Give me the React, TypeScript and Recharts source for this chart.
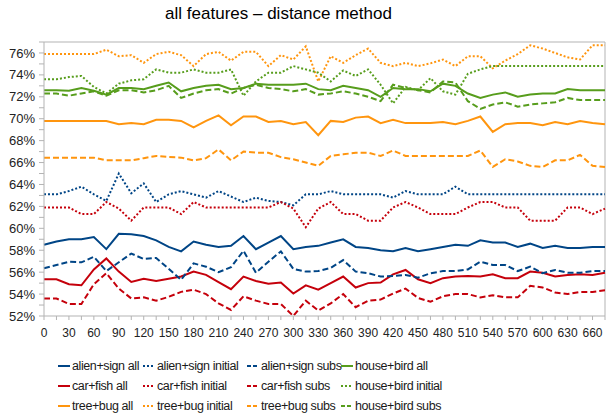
import React from 'react';
import { LineChart, Line, XAxis, YAxis, Legend, ReferenceLine } from 'recharts';

const categories = [0, 15, 30, 45, 60, 75, 90, 105, 120, 135, 150, 165, 180, 195, 210, 225, 240, 255, 270, 285, 300, 315, 330, 345, 360, 375, 390, 405, 420, 435, 450, 465, 480, 495, 510, 525, 540, 555, 570, 585, 600, 615, 630, 645, 660, 675];
const yTicks = [52, 53, 54, 55, 56, 57, 58, 59, 60, 61, 62, 63, 64, 65, 66, 67, 68, 69, 70, 71, 72, 73, 74, 75, 76, 77];

const alienSignAll = [58.5, 58.8, 59.0, 59.0, 59.2, 58.1, 59.5, 59.45, 59.3, 58.9, 58.3, 57.9, 58.8, 58.5, 58.3, 58.4, 59.3, 58.1, 58.7, 59.3, 58.1, 58.3, 58.4, 58.7, 59.0, 58.3, 58.2, 58.0, 57.9, 58.2, 57.9, 58.1, 58.3, 58.5, 58.4, 58.9, 58.7, 58.7, 58.3, 58.6, 58.2, 58.4, 58.2, 58.2, 58.3, 58.3];
const alienSignInitial = [63.1, 63.1, 63.4, 63.8, 63.1, 62.5, 65.0, 63.2, 64.1, 62.4, 63.1, 63.4, 63.1, 62.8, 63.4, 62.9, 62.4, 62.8, 62.5, 62.4, 62.1, 63.1, 63.1, 63.4, 63.1, 63.1, 63.1, 63.1, 62.8, 63.4, 63.1, 63.1, 63.1, 63.8, 63.1, 63.1, 63.1, 63.1, 63.1, 63.1, 63.1, 63.1, 63.1, 63.1, 63.1, 63.1];
const alienSignSubs = [56.35, 56.65, 56.95, 56.9, 57.4, 56.1, 56.9, 57.7, 57.2, 57.3, 56.3, 55.3, 56.8, 56.5, 56.0, 56.45, 57.95, 55.95, 56.95, 57.9, 56.3, 56.05, 56.1, 56.4, 57.1, 56.05, 55.9, 55.6, 55.65, 55.75, 55.5, 55.9, 56.1, 56.1, 56.25, 56.95, 56.65, 56.65, 56.1, 56.5, 55.9, 56.2, 55.95, 55.95, 56.1, 56.1];
const carFishAll = [55.35, 55.35, 54.9, 54.8, 56.25, 57.25, 56.05, 55.1, 55.4, 55.2, 55.4, 55.6, 56.05, 55.75, 55.1, 54.45, 55.6, 55.2, 54.95, 55.05, 54.05, 54.8, 54.4, 55.0, 55.6, 54.6, 55.0, 55.05, 55.8, 56.2, 55.35, 55.0, 55.45, 55.6, 55.65, 55.6, 55.8, 55.45, 55.45, 56.05, 55.95, 55.6, 55.75, 55.8, 55.75, 55.95];
const carFishInitial = [61.9, 61.9, 61.9, 61.3, 61.3, 62.4, 61.8, 60.7, 61.9, 61.9, 61.9, 61.3, 62.4, 61.9, 61.9, 61.9, 61.9, 61.9, 61.9, 62.4, 61.8, 60.1, 61.8, 62.4, 61.3, 61.3, 60.7, 60.7, 61.9, 62.4, 61.9, 61.3, 61.3, 61.3, 61.9, 62.4, 62.4, 61.9, 61.9, 60.7, 60.7, 60.7, 61.9, 61.9, 61.3, 61.8];
const carFishSubs = [53.6, 53.6, 53.1, 53.1, 54.9, 55.9, 54.5, 53.6, 53.7, 53.4, 53.75, 54.2, 54.4, 54.0, 53.15, 52.55, 53.8, 53.4, 53.1, 53.1, 52.0, 53.4, 52.5, 53.15, 54.0, 52.8, 53.4, 53.5, 54.05, 54.5, 53.65, 53.3, 53.8, 54.0, 54.0, 53.7, 53.9, 53.7, 53.7, 54.75, 54.6, 54.15, 54.0, 54.2, 54.2, 54.35];
const treeBugAll = [69.8, 69.8, 69.8, 69.8, 69.8, 69.8, 69.5, 69.6, 69.5, 69.9, 69.9, 69.8, 69.2, 69.8, 70.3, 69.4, 70.2, 70.2, 69.7, 69.8, 69.5, 69.7, 68.5, 69.8, 69.7, 70.1, 70.2, 69.6, 69.9, 69.6, 69.6, 69.6, 69.7, 69.5, 69.8, 70.2, 68.8, 69.5, 69.6, 69.6, 69.4, 69.7, 69.5, 69.8, 69.6, 69.5];
const treeBugInitial = [75.9, 75.9, 75.9, 75.9, 75.9, 76.3, 75.7, 75.8, 75.1, 75.9, 76.1, 75.8, 74.8, 75.9, 76.1, 75.3, 76.1, 76.1, 74.8, 75.8, 75.4, 76.6, 73.4, 75.7, 75.1, 75.8, 76.4, 75.1, 74.8, 75.1, 74.8, 75.05, 75.4, 74.8, 75.7, 75.7, 74.6, 75.3, 75.9, 76.7, 76.4, 76.0, 75.6, 75.4, 76.7, 76.7];
const treeBugSubs = [66.45, 66.45, 66.45, 66.45, 66.45, 66.2, 66.2, 66.2, 66.4, 66.6, 66.5, 66.45, 66.2, 66.4, 67.2, 66.2, 67.0, 66.9, 66.9, 66.5, 66.3, 66.0, 65.7, 66.6, 66.75, 66.9, 66.9, 66.6, 67.1, 66.6, 66.6, 66.6, 66.6, 66.6, 66.6, 67.1, 65.6, 66.3, 66.1, 65.7, 65.6, 66.2, 66.2, 66.7, 65.7, 65.6];
const houseBirdAll = [72.6, 72.6, 72.55, 72.8, 72.55, 72.2, 72.8, 72.8, 72.7, 73.0, 73.3, 72.5, 72.8, 73.0, 73.1, 72.7, 72.8, 73.2, 73.1, 73.1, 73.1, 73.2, 72.7, 72.6, 73.0, 72.8, 72.6, 72.0, 72.8, 72.7, 72.7, 72.5, 73.2, 73.0, 72.3, 71.9, 72.2, 72.4, 72.0, 72.2, 72.3, 72.3, 72.7, 72.6, 72.6, 72.6];
const houseBirdInitial = [73.6, 73.6, 73.8, 73.9, 72.9, 72.3, 73.2, 73.5, 73.6, 74.5, 74.2, 74.2, 74.5, 74.2, 74.2, 74.5, 72.1, 73.4, 74.2, 74.2, 74.8, 74.5, 74.2, 73.4, 74.4, 73.9, 74.5, 73.1, 71.4, 72.9, 72.6, 73.7, 72.5, 72.2, 74.1, 74.5, 74.8, 74.8, 74.8, 74.8, 74.8, 74.8, 74.8, 74.8, 74.8, 74.8];
const houseBirdSubs = [72.3, 72.3, 72.1, 72.3, 72.5, 72.1, 72.6, 72.6, 72.4, 72.6, 73.0, 71.9, 72.3, 72.6, 72.7, 72.3, 72.8, 73.1, 72.8, 72.7, 72.5, 72.7, 72.2, 72.3, 72.5, 72.3, 72.0, 71.6, 73.1, 72.8, 72.6, 72.4, 73.4, 73.3, 71.6, 70.9, 71.3, 71.5, 71.1, 71.3, 71.4, 71.5, 71.9, 71.7, 71.7, 71.7];

const BLUE = '#004586';
const RED = '#c5000b';
const ORANGE = '#ff950e';
const GREEN = '#579d1c';
const SOLID = undefined;
const DOTTED = '2 2';
const DASHED = '6 3';

const series = [
  { key: 'alienSignAll', name: 'alien+sign all', values: alienSignAll, color: BLUE, dash: SOLID },
  { key: 'carFishAll', name: 'car+fish all', values: carFishAll, color: RED, dash: SOLID },
  { key: 'treeBugAll', name: 'tree+bug all', values: treeBugAll, color: ORANGE, dash: SOLID },
  { key: 'alienSignInitial', name: 'alien+sign initial', values: alienSignInitial, color: BLUE, dash: DOTTED },
  { key: 'carFishInitial', name: 'car+fish initial', values: carFishInitial, color: RED, dash: DOTTED },
  { key: 'treeBugInitial', name: 'tree+bug initial', values: treeBugInitial, color: ORANGE, dash: DOTTED },
  { key: 'alienSignSubs', name: 'alien+sign subs', values: alienSignSubs, color: BLUE, dash: DASHED },
  { key: 'carFishSubs', name: 'car+fish subs', values: carFishSubs, color: RED, dash: DASHED },
  { key: 'treeBugSubs', name: 'tree+bug subs', values: treeBugSubs, color: ORANGE, dash: DASHED },
  { key: 'houseBirdAll', name: 'house+bird all', values: houseBirdAll, color: GREEN, dash: SOLID },
  { key: 'houseBirdInitial', name: 'house+bird initial', values: houseBirdInitial, color: GREEN, dash: DOTTED },
  { key: 'houseBirdSubs', name: 'house+bird subs', values: houseBirdSubs, color: GREEN, dash: DASHED },
];

const data = categories.map((x, i) => {
  const row: Record<string, number> = { x };
  series.forEach((s) => { row[s.key] = s.values[i]; });
  return row;
});

const colLeft = [58, 143, 247, 341];
const FONT = "'Liberation Sans', Arial, sans-serif";

const LegendContent = () => (
  <div style={{ position: 'relative', width: 608, height: 60 }}>
    {series.map((s, i) => {
      const col = Math.floor(i / 3);
      const row = i % 3;
      return (
        <div key={s.key} style={{ position: 'absolute', left: colLeft[col], top: 1 + row * 20, height: 20, display: 'flex', alignItems: 'center', whiteSpace: 'nowrap' }}>
          <svg width={12} height={4} style={{ marginRight: 2 }}>
            <line x1={0} y1={2} x2={12} y2={2} stroke={s.color} strokeWidth={2} strokeDasharray={s.dash === DASHED ? '4 2' : s.dash} />
          </svg>
          <span style={{ fontFamily: FONT, fontSize: 12.5, letterSpacing: -0.4, color: '#1a1a1a', lineHeight: '20px' }}>{s.name}</span>
        </div>
      );
    })}
  </div>
);

export default function App() {
  return (
    <div style={{ position: 'absolute', left: 0, top: 0, width: 608, height: 415, background: '#fff' }}>
      <div style={{ position: 'absolute', left: 0, top: 4, width: 557, textAlign: 'center', fontFamily: FONT, fontSize: 17, lineHeight: '20px', color: '#000' }}>
        all features – distance method
      </div>
      <LineChart width={608} height={415} data={data} margin={{ top: 42, right: 3, bottom: 0, left: 0 }}>
        <XAxis
          dataKey="x"
          type="number"
          domain={[0, 675]}
          ticks={categories}
          interval={0}
          tickFormatter={(v: number) => (v % 30 === 0 ? String(v) : '')}
          tickSize={4}
          tickMargin={8}
          height={39}
          stroke="#b3b3b3"
          tick={{ fill: '#222', fontSize: 12, fontFamily: FONT }}
        />
        <YAxis
          type="number"
          domain={[52, 77]}
          ticks={yTicks}
          interval={0}
          tickFormatter={(v: number) => (v % 2 === 0 ? `${v}%` : '')}
          tickSize={5}
          tickMargin={4}
          width={44}
          stroke="#b3b3b3"
          tick={{ fill: '#222', fontSize: 13, fontFamily: FONT }}
        />
        <ReferenceLine y={77} stroke="#b3b3b3" />
        <ReferenceLine x={675} stroke="#b3b3b3" />
        {series.map((s) => (
          <Line
            key={s.key}
            dataKey={s.key}
            name={s.name}
            type="linear"
            stroke={s.color}
            strokeWidth={2}
            strokeDasharray={s.dash}
            dot={false}
            activeDot={false}
            isAnimationActive={false}
          />
        ))}
        <Legend verticalAlign="bottom" content={() => <LegendContent />} />
      </LineChart>
    </div>
  );
}
